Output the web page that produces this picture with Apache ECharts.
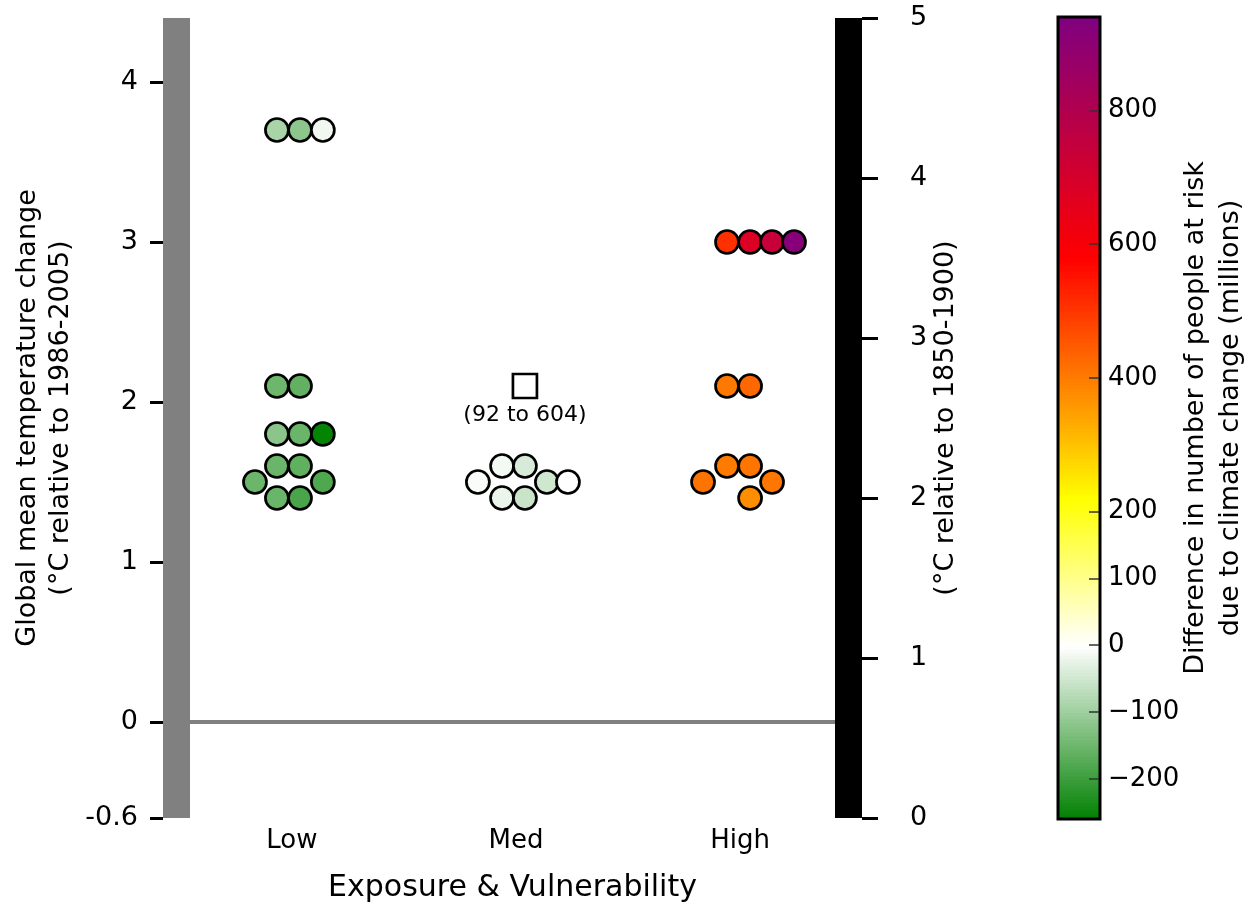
<!DOCTYPE html>
<html>
<head>
<meta charset="utf-8">
<script src="https://cdn.jsdelivr.net/npm/echarts@6/dist/echarts.min.js"></script>
<style>
  html, body { margin: 0; padding: 0; background: #fff; }
  #chart { width: 1256px; height: 913px; }
</style>
</head>
<body>
<div id="chart"></div>
<script>
  // categories on the x axis (Low = 1, Med = 2, High = 3)
  const categories = ['Low', 'Med', 'High'];
  // [x position, temperature change (°C), difference in people at risk (millions)]
  const lowPoints = [
    [0.933, 3.7, -89], [1.036, 3.7, -117], [1.138, 3.7, -15],
    [0.933, 2.1, -149], [1.036, 2.1, -160],
    [0.933, 1.8, -118], [1.036, 1.8, -152], [1.138, 1.8, -255],
    [0.933, 1.6, -152], [1.036, 1.6, -163],
    [0.835, 1.5, -150], [1.138, 1.5, -179],
    [0.933, 1.4, -153], [1.036, 1.4, -184]
  ];
  const medPoints = [
    [1.938, 1.6, -12], [2.040, 1.6, -40],
    [1.830, 1.5, -6], [2.138, 1.5, -50], [2.232, 1.5, 0],
    [1.938, 1.4, -20], [2.040, 1.4, -55]
  ];
  const highPoints = [
    [2.942, 3.0, 510], [3.045, 3.0, 680], [3.143, 3.0, 740], [3.241, 3.0, 920],
    [2.942, 2.1, 405], [3.045, 2.1, 430],
    [2.942, 1.6, 402], [3.045, 1.6, 410],
    [2.835, 1.5, 412], [3.143, 1.5, 408],
    [3.045, 1.4, 375]
  ];
  // open square for the Med group with its range
  const medSummary = [[2.040, 2.1]];
  const medSummaryLabel = '(92 to 604)';

  const leftTicks = [-0.6, 0, 1, 2, 3, 4];
  const riskTicks = [-200, -100, 0, 100, 200, 400, 600, 800];
  const riskMin = -260, riskMax = 940;

  // colour ramp of the colour bar
  const rampStops = [
    [-260, '#008000'], [0, '#ffffff'], [220, '#ffff00'],
    [340, '#ffa500'], [580, '#ff0000'], [940, '#800080']
  ];

  function hexToRgb(h) {
    return [parseInt(h.substr(1, 2), 16), parseInt(h.substr(3, 2), 16), parseInt(h.substr(5, 2), 16)];
  }
  function rampColor(v) {
    for (let i = 0; i < rampStops.length - 1; i++) {
      const a = rampStops[i], b = rampStops[i + 1];
      if (v <= b[0]) {
        const t = (v - a[0]) / (b[0] - a[0]);
        const ca = hexToRgb(a[1]), cb = hexToRgb(b[1]);
        return 'rgb(' + ca.map((c, k) => Math.round(c + (cb[k] - c) * t)).join(',') + ')';
      }
    }
    return rampStops[rampStops.length - 1][1];
  }
  const rampColors = [];
  for (let v = riskMin; v <= riskMax; v += 20) rampColors.push(rampColor(v));

  const cellStep = 5;
  const barCells = [];
  for (let v = riskMin; v < riskMax; v += cellStep) barCells.push([0, v, v + cellStep / 2]);

  const chart = echarts.init(document.getElementById('chart'));
  const font = 'DejaVu Sans';

  const option = {
    animation: false,
    textStyle: { fontFamily: font, color: '#000' },
    grid: [
      { left: 190, right: 421, top: 18, bottom: 95, outerBoundsMode: 'none' },
      { left: 1058, width: 42, top: 17, bottom: 94, show: true, z: 5,
        borderColor: '#000', borderWidth: 3, backgroundColor: 'transparent', outerBoundsMode: 'none' }
    ],
    xAxis: [
      {
        gridIndex: 0, type: 'value', min: 0.545, max: 3.424,
        axisLine: { show: false }, axisTick: { show: false }, splitLine: { show: false },
        axisLabel: {
          customValues: [1, 2, 3], margin: 10, fontSize: 26, color: '#000',
          formatter: v => categories[Math.round(v) - 1]
        },
        name: 'Exposure & Vulnerability', nameLocation: 'middle', nameGap: 55,
        nameTextStyle: { fontSize: 30, color: '#000' }
      },
      { gridIndex: 1, type: 'value', min: 0, max: 1, show: false }
    ],
    yAxis: [
      {
        gridIndex: 0, type: 'value', min: -0.6, max: 4.4, position: 'left', offset: 27,
        axisLine: { show: false }, splitLine: { show: false },
        axisTick: { customValues: leftTicks, length: 13, lineStyle: { color: '#000', width: 3 } },
        axisLabel: { customValues: leftTicks, margin: 25, fontSize: 27, color: '#000' },
        name: 'Global mean temperature change\n(°C relative to 1986-2005)',
        nameLocation: 'middle', nameRotate: 90, nameGap: 86, nameMoveOverlap: false,
        nameTextStyle: { fontSize: 27, lineHeight: 33, color: '#000' }
      },
      {
        gridIndex: 0, type: 'value', min: -0.6, max: 4.4, position: 'left', offset: 13.5,
        axisLine: { show: true, lineStyle: { color: '#808080', width: 27, cap: 'butt' } },
        axisTick: { show: false }, axisLabel: { show: false }, splitLine: { show: false }
      },
      {
        gridIndex: 0, type: 'value', min: 0, max: 5, interval: 1, position: 'right', offset: 27,
        axisLine: { show: false }, splitLine: { show: false },
        axisTick: { length: 16, lineStyle: { color: '#000', width: 3 } },
        axisLabel: { margin: 48, fontSize: 27, color: '#000' },
        name: '(°C relative to 1850-1900)',
        nameLocation: 'middle', nameRotate: 90, nameGap: 70, nameMoveOverlap: false,
        nameTextStyle: { fontSize: 27, color: '#000' }
      },
      {
        gridIndex: 0, type: 'value', min: 0, max: 5, position: 'right', offset: 13.5,
        axisLine: { show: true, lineStyle: { color: '#000', width: 27, cap: 'butt' } },
        axisTick: { show: false }, axisLabel: { show: false }, splitLine: { show: false }
      },
      {
        gridIndex: 1, type: 'value', min: riskMin, max: riskMax, position: 'right',
        axisLine: { show: false }, splitLine: { show: false }, axisTick: { show: false },
        axisLabel: {
          customValues: riskTicks, margin: 8, fontSize: 26, color: '#000',
          formatter: v => String(v).replace('-', '\u2212')
        },
        name: 'Difference in number of people at risk\ndue to climate change (millions)',
        nameLocation: 'middle', nameRotate: 90, nameGap: 78, nameMoveOverlap: false,
        nameTextStyle: { fontSize: 27, lineHeight: 35, color: '#000' }
      },
      {
        // short tick marks drawn inside the right edge of the colour bar
        gridIndex: 1, type: 'value', min: riskMin, max: riskMax, position: 'right', offset: -11, z: 8,
        axisLine: { show: false }, splitLine: { show: false }, axisLabel: { show: false },
        axisTick: { show: true, customValues: riskTicks, length: 10, lineStyle: { color: '#333', width: 1.5 } }
      }
    ],
    visualMap: {
      type: 'continuous', show: false, min: riskMin, max: riskMax,
      dimension: 2, seriesIndex: [0, 2],
      inRange: { color: rampColors }
    },
    series: [
      {
        type: 'scatter', xAxisIndex: 0, yAxisIndex: 0,
        symbol: 'circle', symbolSize: 23, z: 4,
        itemStyle: { borderColor: '#000', borderWidth: 2.7, opacity: 1 },
        data: lowPoints.concat(medPoints, highPoints)
      },
      {
        type: 'scatter', xAxisIndex: 0, yAxisIndex: 0,
        symbol: 'rect', symbolSize: 24, z: 4,
        itemStyle: { color: '#fff', borderColor: '#000', borderWidth: 2.7, opacity: 1 },
        label: {
          show: true, position: 'bottom', distance: 5, fontSize: 22, color: '#000',
          textBorderWidth: 0, opacity: 1,
          formatter: () => medSummaryLabel
        },
        data: medSummary,
        markLine: {
          silent: true, symbol: 'none', animation: false,
          label: { show: false },
          lineStyle: { color: '#808080', width: 4, type: 'solid' },
          data: [{ yAxis: 0 }]
        }
      },
      {
        type: 'custom', xAxisIndex: 1, yAxisIndex: 4,
        renderItem: function (params, api) {
          const lo = api.coord([0, api.value(1)]);
          const hi = api.coord([1, api.value(1) + cellStep]);
          return {
            type: 'rect',
            shape: { x: lo[0], y: hi[1], width: hi[0] - lo[0], height: lo[1] - hi[1] + 1 },
            style: { fill: api.visual('color') }
          };
        },
        data: barCells
      }
    ]
  };
  chart.setOption(option);
  window.addEventListener('resize', () => {
    chart.resize();
  });
</script>
</body>
</html>
